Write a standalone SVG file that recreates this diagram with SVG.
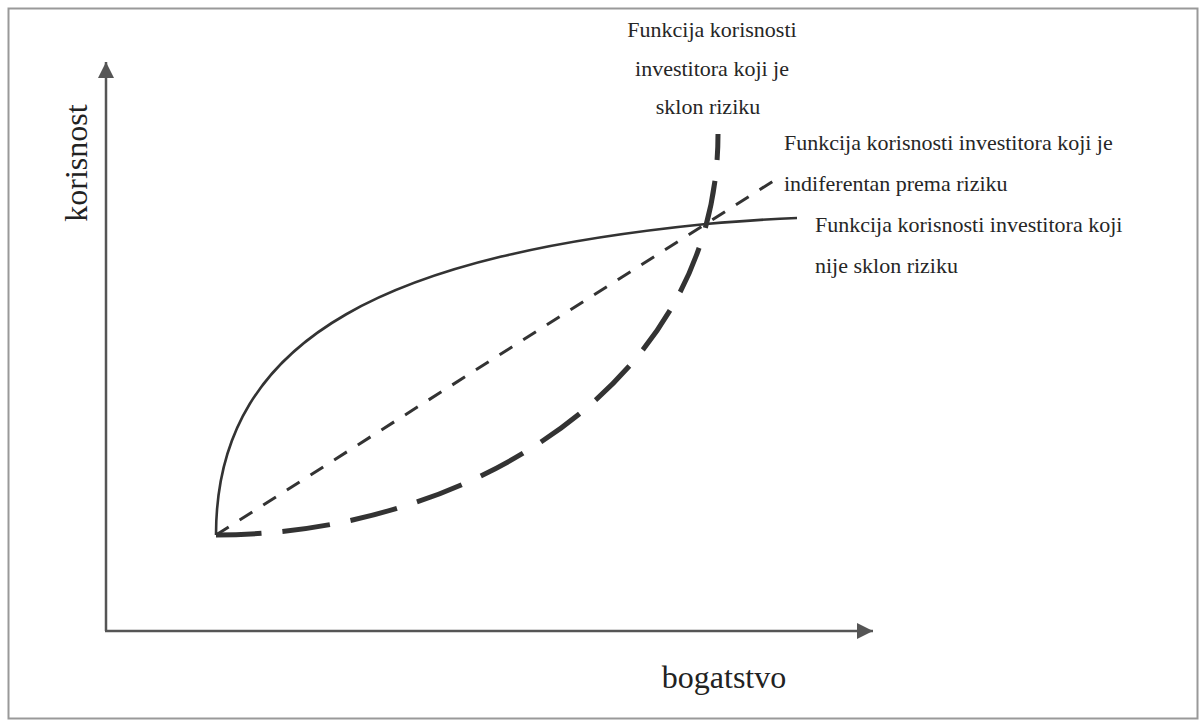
<svg xmlns="http://www.w3.org/2000/svg" width="1202" height="722" viewBox="0 0 1202 722">
<defs>
<style>
.lbl{font-family:"Liberation Serif","Times New Roman",serif;font-size:22px;fill:#262626}
.ax{font-family:"Liberation Serif","Times New Roman",serif;font-size:32px;fill:#222}
.axis{stroke:#555;stroke-width:2.5;fill:none}
.curve{fill:none;stroke:#333}
</style>
<marker id="arr" markerWidth="16" markerHeight="16" refX="16" refY="8" orient="auto" markerUnits="userSpaceOnUse">
<path d="M0,0 L16,8 L0,16 Z" fill="#555"/>
</marker>
</defs>
<rect x="0" y="0" width="1202" height="722" fill="#fff"/>
<rect x="8.5" y="8.5" width="1189" height="710" fill="none" stroke="#999" stroke-width="2"/>
<g id="axes">
<path class="axis" d="M106,631 L106,62" marker-end="url(#arr)"/>
<path class="axis" d="M105,631 L873,631" marker-end="url(#arr)"/>
</g>
<g id="connectors">
<path id="risk-neutral" class="curve" d="M216,535 L778,178" stroke-width="3" stroke-dasharray="15 13"/>
<path id="risk-averse" class="curve" d="M216,535 C216,330 400,255 706,224 C740,221 770,219 797,218" stroke-width="2.6"/>
<path id="risk-seeking" class="curve" d="M718,134 C718,384 466,535 216,535" stroke-width="5" stroke-dasharray="48 21" stroke-dashoffset="22"/>
</g>
<g id="label-seeking">
<text class="lbl" x="712" y="37" text-anchor="middle">Funkcija korisnosti</text>
<text class="lbl" x="712" y="76" text-anchor="middle">investitora koji je</text>
<text class="lbl" x="708" y="114" text-anchor="middle">sklon riziku</text>
</g>
<g id="label-neutral">
<text class="lbl" x="784" y="150">Funkcija korisnosti investitora koji je</text>
<text class="lbl" x="784" y="191">indiferentan prema riziku</text>
</g>
<g id="label-averse">
<text class="lbl" x="815" y="232">Funkcija korisnosti investitora koji</text>
<text class="lbl" x="815" y="273">nije sklon riziku</text>
</g>
<g id="label-y">
<text class="ax" transform="translate(87,163) rotate(-90)" text-anchor="middle">korisnost</text>
</g>
<g id="label-x">
<text class="ax" x="724" y="688" text-anchor="middle">bogatstvo</text>
</g>
</svg>
